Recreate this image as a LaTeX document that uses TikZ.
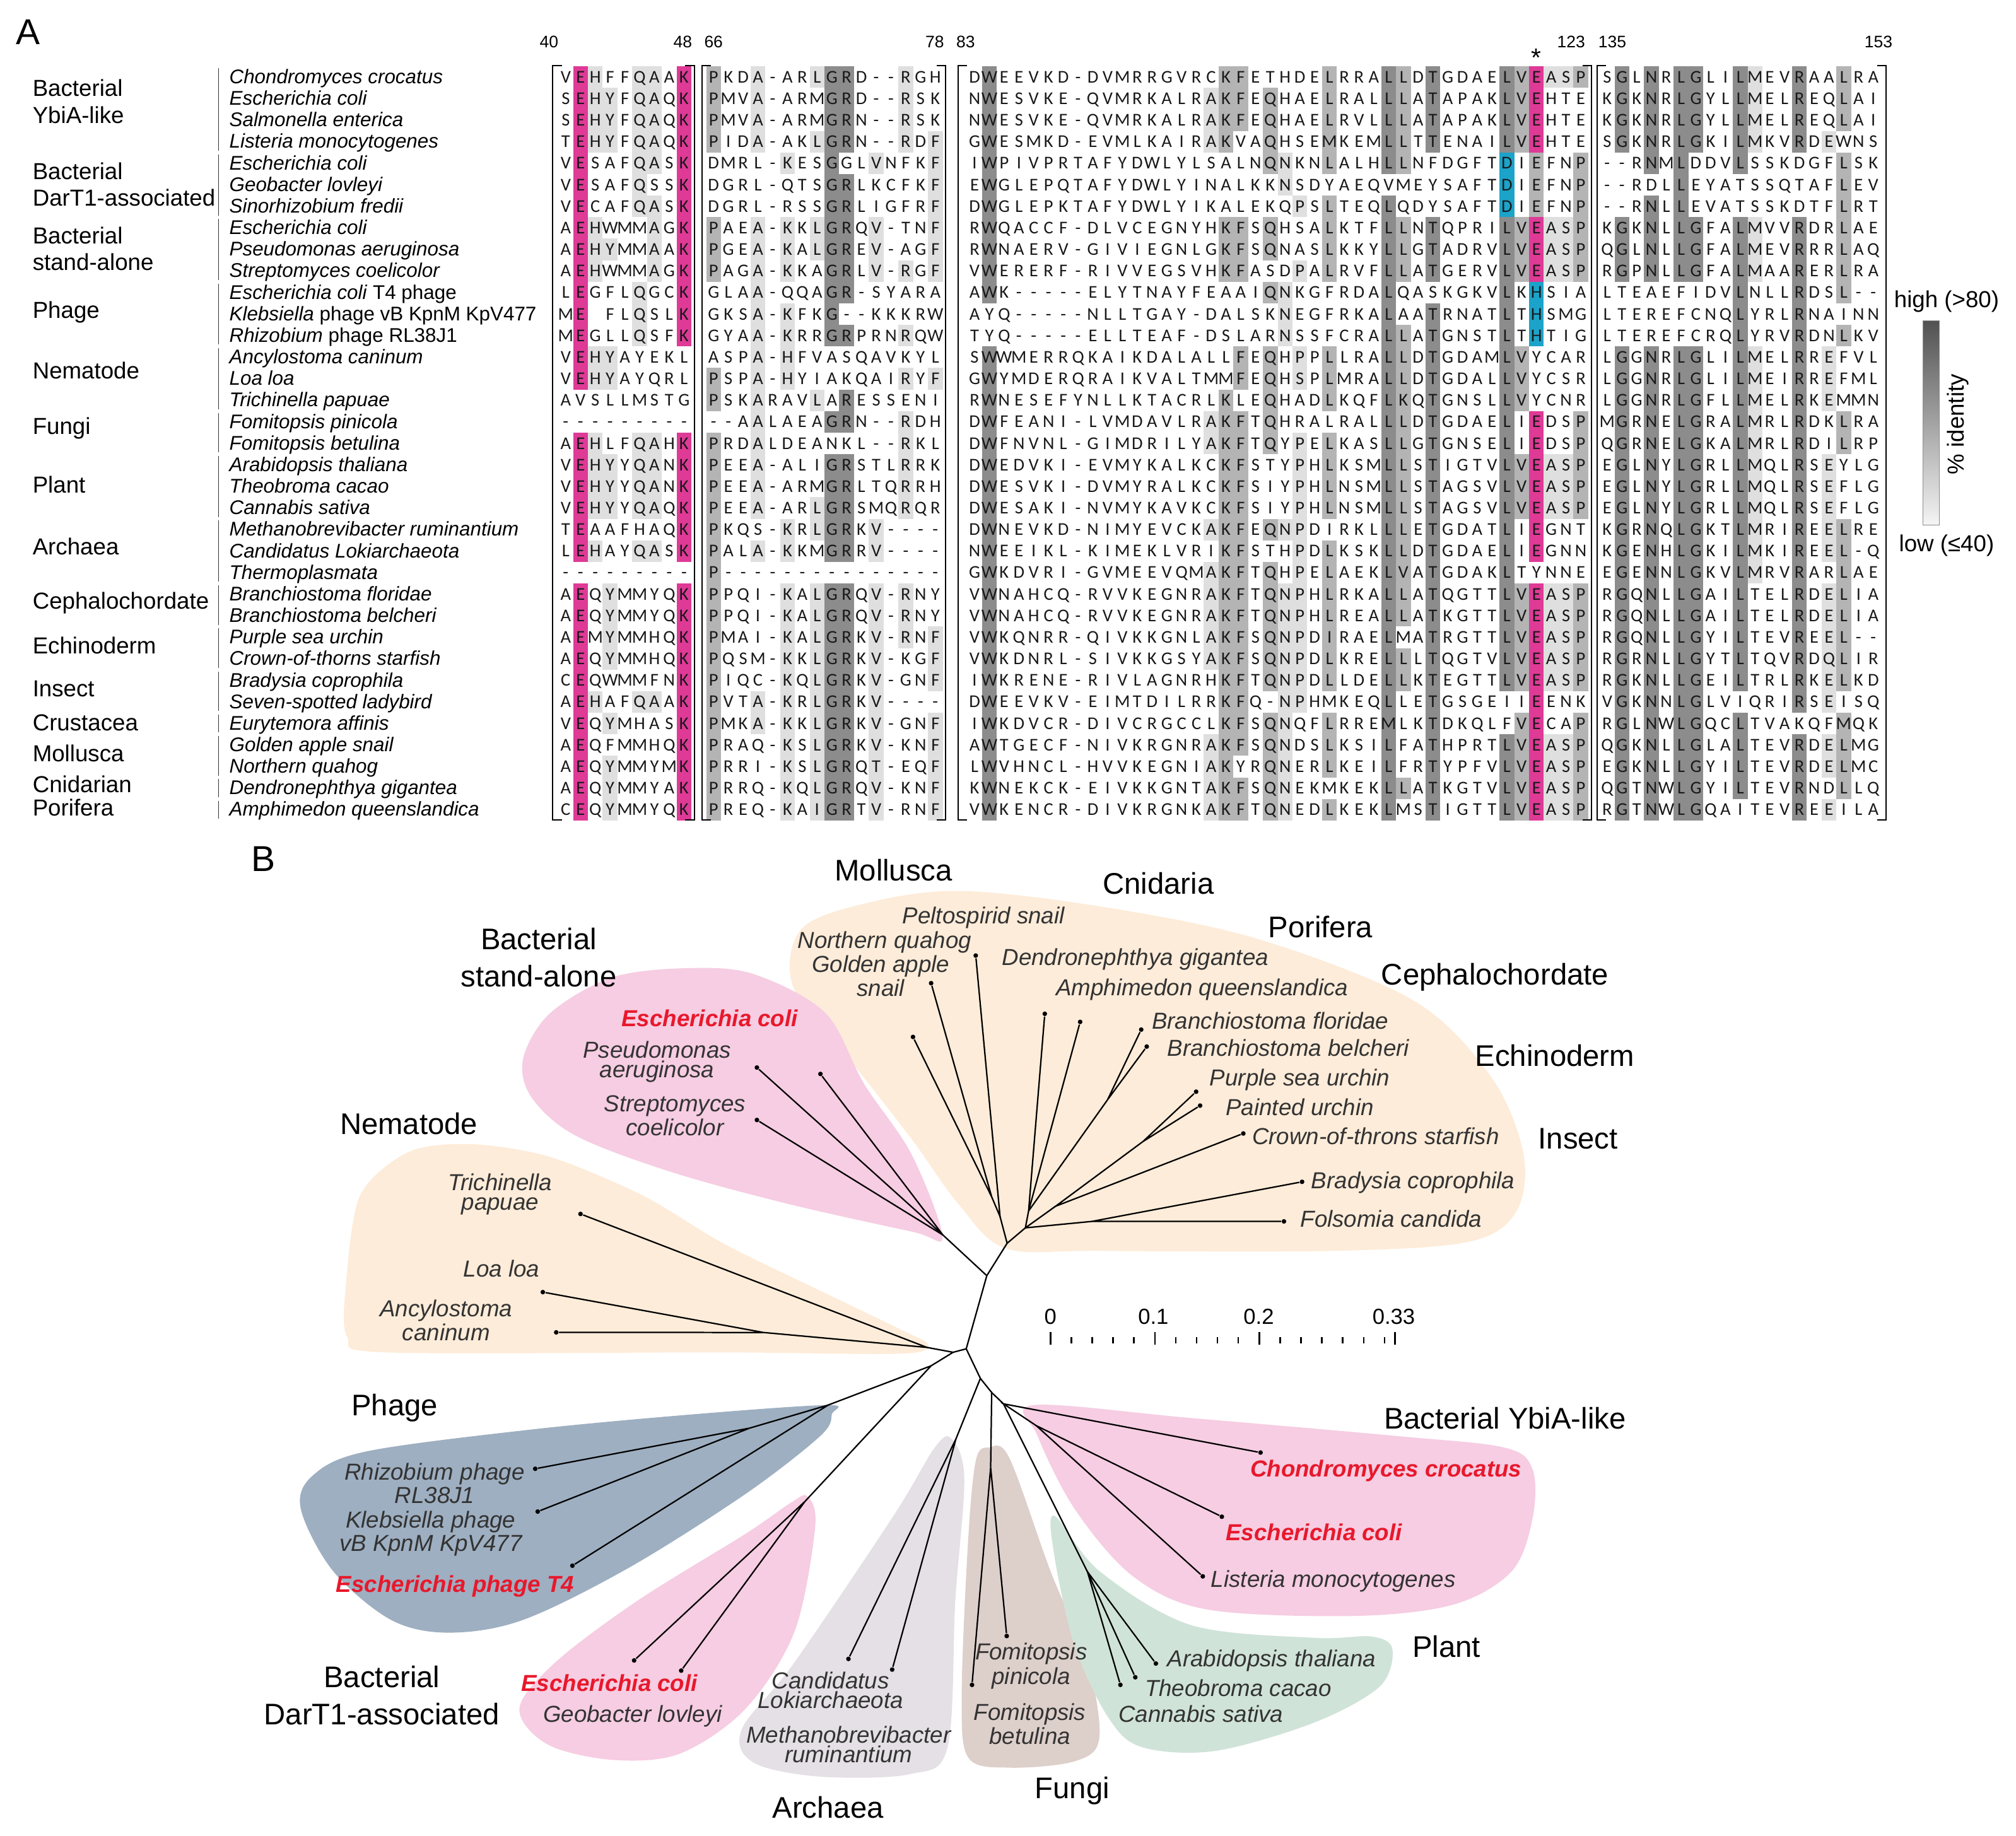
\documentclass[tikz,border=0pt]{standalone}
\usepackage{fontspec}
\setmainfont{Liberation Sans}
\newfontfamily\seqfont{Carlito}
\usetikzlibrary{positioning}

\definecolor{hlpink}{RGB}{222,58,150}
\definecolor{hlcyan}{RGB}{28,163,201}
\definecolor{hldark}{RGB}{140,140,140}
\definecolor{hlmid}{RGB}{180,180,180}
\definecolor{hllight}{RGB}{223,223,223}
\definecolor{blobpink}{RGB}{246,205,226}
\definecolor{blobpeach}{RGB}{253,236,217}
\definecolor{blobslate}{RGB}{158,175,193}
\definecolor{blobgrey}{RGB}{228,224,229}
\definecolor{blobbrown}{RGB}{221,207,202}
\definecolor{blobgreen}{RGB}{208,227,216}
\definecolor{labelred}{RGB}{232,24,44}

% one residue per alignment column
\newcount\seqcol
\newcommand\putseq[4]{\def\seqtag{#1}\def\seqx{#2}\def\seqy{#3}\seqcol=0\relax\expandafter\seqloop#4\relax}
\def\seqloop#1{\ifx#1\relax\else\seqput{#1}\advance\seqcol by 1\relax\expandafter\seqloop\fi}
\newcommand\seqput[1]{\if.#1\else\node[resid] (\seqtag-\the\seqcol) at ({\seqx+\the\seqcol*11.5},\seqy) {#1};\fi}

\tikzset{
  % alignment
  resid/.style = {
    font = \seqfont\fontsize{7}{7}\selectfont,
    text = black!90,
    inner sep = 0,
    anchor = base
  },
  spname/.style = {
    font = \fontsize{7.7}{8}\selectfont\itshape,
    inner sep = 0,
    anchor = base west
  },
  grouplabel/.style = {
    font = \fontsize{9}{10.5}\selectfont,
    align = left,
    inner sep = 0,
    anchor = west
  },
  posnum/.style = {
    font = \fontsize{6.5}{7}\selectfont,
    inner sep = 0,
    anchor = base
  },
  bracket/.style = {
    draw = black,
    line width = 0.5pt
  },
  groupbar/.style = {
    draw = black!80,
    line width = 0.45pt
  },
  panellabel/.style = {
    font = \fontsize{14}{14}\selectfont,
    inner sep = 0
  }
}
\tikzset{
  % tree
  branch/.style = {
    draw = black,
    line width = 0.55pt
  },
  leafdot/.style = {
    circle,
    fill = black,
    inner sep = 0,
    minimum size = 1.8pt
  },
  leafname/.style = {
    font = \fontsize{9}{7.6}\selectfont\itshape,
    text = black!80,
    align = center,
    inner sep = 0
  },
  % the highlighted sequences
  hitname/.style = {
    leafname,
    font = \fontsize{9}{7.6}\selectfont\bfseries\itshape,
    text = labelred
  },
  cladename/.style = {
    font = \fontsize{11.6}{14.5}\selectfont,
    align = center,
    inner sep = 0
  },
  scaletick/.style = {
    draw = black,
    line width = 0.6pt
  },
  node distance = 2pt
}

\begin{document}
\begin{tikzpicture}[x=0.5pt, y=-0.5pt]
  \useasboundingbox (0,0) rectangle (1568,1428);

  \node[panellabel] (lab-a) at (22,25) {A};
  \node[panellabel] (lab-b) at (205,668) {B};

  % shading of the alignment: block x / column / first row / last row / colour
  \foreach \bx/\c/\ra/\rb/\hc in {
    440/2/1/15/hlpink,440/2/18/23/hlpink,440/2/25/35/hlpink,
    440/9/1/13/hlpink,440/9/18/23/hlpink,440/9/25/35/hlpink,
    440/3/1/4/hllight,440/3/8/10/hllight,440/3/14/15/hllight,440/3/18/21/hllight,440/3/23/23/hllight,440/3/30/30/hllight,
    440/4/2/4/hllight,440/4/9/9/hllight,440/4/14/15/hllight,440/4/19/21/hllight,440/4/25/28/hllight,440/4/31/31/hllight,440/4/33/35/hllight,
    440/6/1/7/hllight,440/6/11/13/hllight,440/6/18/21/hllight,440/6/23/23/hllight,440/6/30/30/hllight,
    440/7/1/5/hllight,440/7/7/10/hllight,440/7/18/21/hllight,440/7/23/23/hllight,440/7/30/30/hllight,
    555/1/1/4/hlmid,555/1/8/10/hlmid,555/1/15/16/hlmid,555/1/18/35/hlmid,
    555/4/1/4/hllight,555/4/8/21/hllight,555/4/23/23/hllight,555/4/30/31/hllight,
    555/6/5/5/hllight,555/6/8/10/hllight,555/6/12/15/hllight,555/6/22/23/hllight,555/6/25/35/hllight,
    555/8/1/1/hllight,555/8/4/4/hllight,555/8/8/9/hllight,555/8/16/16/hllight,555/8/21/22/hllight,555/8/25/35/hllight,
    555/9/1/13/hldark,555/9/17/17/hldark,555/9/19/23/hldark,555/9/25/35/hldark,
    555/10/1/4/hldark,555/10/6/11/hldark,555/10/13/13/hldark,555/10/16/17/hldark,555/10/19/23/hldark,555/10/25/35/hldark,
    555/12/5/5/hllight,555/12/8/10/hllight,555/12/22/23/hllight,555/12/25/35/hllight,
    555/14/1/4/hllight,555/14/10/10/hllight,555/14/13/13/hllight,555/14/15/15/hllight,555/14/17/21/hllight,555/14/25/27/hllight,
    555/16/4/10/hllight,555/16/15/15/hllight,555/16/27/29/hllight,555/16/31/35/hllight,
    758/2/1/11/hldark,758/2/14/35/hldark,
    758/17/2/4/hllight,758/17/17/18/hllight,758/17/22/22/hllight,758/17/24/28/hllight,758/17/32/35/hllight,
    758/18/1/4/hlmid,758/18/8/10/hlmid,758/18/16/35/hlmid,
    758/19/1/3/hlmid,758/19/8/10/hlmid,758/19/14/15/hlmid,758/19/17/32/hlmid,758/19/34/35/hlmid,
    758/21/2/5/hlmid,758/21/8/9/hlmid,758/21/11/11/hlmid,758/21/14/18/hlmid,758/21/22/22/hlmid,758/21/24/29/hlmid,758/21/31/35/hlmid,
    758/22/5/6/hllight,758/22/11/13/hllight,758/22/22/22/hllight,758/22/25/35/hllight,
    758/23/7/7/hllight,758/23/10/10/hllight,758/23/14/15/hllight,758/23/18/30/hllight,
    758/25/1/5/hlmid,758/25/7/10/hlmid,758/25/14/16/hlmid,758/25/18/21/hlmid,758/25/23/29/hlmid,758/25/31/33/hlmid,758/25/35/35/hlmid,
    758/29/1/5/hldark,758/29/7/35/hldark,
    758/30/1/5/hlmid,758/30/8/10/hlmid,758/30/13/26/hlmid,758/30/28/29/hlmid,758/30/34/34/hlmid,
    758/32/1/4/hldark,758/32/8/10/hldark,758/32/12/35/hldark,
    758/37/1/4/hldark,758/37/8/29/hldark,758/37/32/35/hldark,758/37/5/7/hlcyan,
    758/38/1/4/hlmid,758/38/8/10/hlmid,758/38/14/16/hlmid,758/38/19/21/hlmid,758/38/25/29/hlmid,758/38/31/35/hlmid,
    758/39/1/4/hlpink,758/39/8/10/hlpink,758/39/17/23/hlpink,758/39/25/35/hlpink,758/39/11/13/hlcyan,758/39/5/7/hlmid,
    758/40/1/1/hllight,758/40/8/10/hllight,758/40/19/21/hllight,758/40/25/29/hllight,758/40/32/35/hllight,
    758/41/1/1/hllight,758/41/8/10/hllight,758/41/19/21/hllight,758/41/25/29/hllight,758/41/32/35/hllight,
    758/42/1/1/hlmid,758/42/5/10/hlmid,758/42/17/21/hlmid,758/42/25/29/hlmid,758/42/31/35/hlmid,
    1250/2/1/4/hldark,1250/2/8/10/hldark,1250/2/14/35/hldark,
    1250/4/1/5/hldark,1250/4/7/10/hldark,1250/4/14/35/hldark,
    1250/6/1/10/hldark,1250/6/14/35/hldark,
    1250/7/1/4/hldark,1250/7/8/10/hldark,1250/7/14/35/hldark,
    1250/10/1/5/hldark,1250/10/8/29/hldark,1250/10/31/34/hldark,
    1250/11/1/4/hllight,1250/11/8/10/hllight,1250/11/14/24/hllight,
    1250/14/1/4/hldark,1250/14/8/30/hldark,1250/14/32/35/hldark,
    1250/16/4/4/hllight,1250/16/14/16/hllight,1250/16/19/23/hllight,1250/16/25/30/hllight,1250/16/32/33/hllight,1250/16/35/35/hllight,
    1250/17/1/3/hlmid,1250/17/5/11/hlmid,1250/17/13/13/hlmid,1250/17/17/18/hlmid,1250/17/22/29/hlmid,1250/17/31/34/hlmid}
    \fill[\hc] ({\bx+(\c-1.5)*11.5},{60+(\ra-1.5)*16.76}) rectangle ({\bx+(\c-0.5)*11.5},{60+(\rb-0.5)*16.76});

  % residues, four blocks per row
  \foreach \rw/\sa/\sb/\sc/\sd in {
    1/VEHFFQAAK/PKDA-ARLGRD--RGH/DWEEVKD-DVMRRGVRCKFETHDELRRALLDTGDAELVEASP/SGLNRLGLILMEVRAALRA,
    2/SEHYFQAQK/PMVA-ARMGRD--RSK/NWESVKE-QVMRKALRAKFEQHAELRALLLATAPAKLVEHTE/KGKNRLGYLLMELREQLAI,
    3/SEHYFQAQK/PMVA-ARMGRN--RSK/NWESVKE-QVMRKALRAKFEQHAELRVLLLATAPAKLVEHTE/KGKNRLGYLLMELREQLAI,
    4/TEHYFQAQK/PIDA-AKLGRN--RDF/GWESMKD-EVMLKAIRAKVAQHSEMKEMLLTTENAILVEHTE/SGKNRLGKILMKVRDEWNS,
    5/VESAFQASK/DMRL-KESGGLVNFKF/IWPIVPRTAFYDWLYLSALNQNKNLALHLLNFDGFTDIEFNP/--RNMLDDVLSSKDGFLSK,
    6/VESAFQSSK/DGRL-QTSGRLKCFKF/EWGLEPQTAFYDWLYINALKKNSDYAEQVMEYSAFTDIEFNP/--RDLLEYATSSQTAFLEV,
    7/VECAFQASK/DGRL-RSSGRLIGFRF/DWGLEPKTAFYDWLYIKALEKQPSLTEQLQDYSAFTDIEFNP/--RNLLEVATSSKDTFLRT,
    8/AEHWMMAGK/PAEA-KKLGRQV-TNF/RWQACCF-DLVCEGNYHKFSQHSALKTFLLNTQPRILVEASP/KGKNLLGFALMVVRDRLAE,
    9/AEHYMMAAK/PGEA-KALGREV-AGF/RWNAERV-GIVIEGNLGKFSQNASLKKYLLGTADRVLVEASP/QGLNLLGFALMEVRRRLAQ,
    10/AEHWMMAGK/PAGA-KKAGRLV-RGF/VWERERF-RIVVEGSVHKFASDPALRVFLLATGERVLVEASP/RGPNLLGFALMAARERLRA,
    11/LEGFLQGCK/GLAA-QQAGR-SYARA/AWK-----ELYTNAYFEAAIQNKGFRDALQASKGKVLKHSIA/LTEAEFIDVLNLLRDSL--,
    12/ME.FLQSLK/GKSA-KFKG--KKKRW/AYQ-----NLLTGAY-DALSKNEGFRKALAATRNATLTHSMG/LTEREFCNQLYRLRNAINN,
    13/MEGLLQSFK/GYAA-KRRGRPRNRQW/TYQ-----ELLTEAF-DSLARNSSFCRALLATGNSTLTHTIG/LTEREFCRQLYRVRDNLKV,
    14/VEHYAYEKL/ASPA-HFVASQAVKYL/SWWMERRQKAIKDALALLFEQHPPLLRALLDTGDAMLVYCAR/LGGNRLGLILMELRREFVL,
    15/VEHYAYQRL/PSPA-HYIAKQAIRYF/GWYMDERQRAIKVALTMMFEQHSPLMRALLDTGDALLVYCSR/LGGNRLGLILMEIRREFML,
    16/AVSLLMSTG/PSKARAVLARESSENI/RWNESEFYNLLKTACRLKLEQHADLKQFLKQTGNSLLVYCNR/LGGNRLGFLLMELRKEMMN,
    17/---------/--AALAEAGRN--RDH/DWFEANI-LVMDAVLRAKFTQHRALRALLLDTGDAELIEDSP/MGRNELGRALMRLRDKLRA,
    18/AEHLFQAHK/PRDALDEANKL--RKL/DWFNVNL-GIMDRILYAKFTQYPELKASLLGTGNSELIEDSP/QGRNELGKALMRLRDILRP,
    19/VEHYYQANK/PEEA-ALIGRSTLRRK/DWEDVKI-EVMYKALKCKFSTYPHLKSMLLSTIGTVLVEASP/EGLNYLGRLLMQLRSEYLG,
    20/VEHYYQANK/PEEA-ARMGRLTQRRH/DWESVKI-DVMYRALKCKFSIYPHLNSMLLSTAGSVLVEASP/EGLNYLGRLLMQLRSEFLG,
    21/VEHYYQAQK/PEEA-ARLGRSMQRQR/DWESAKI-NVMYKAVKCKFSIYPHLNSMLLSTAGSVLVEASP/EGLNYLGRLLMQLRSEFLG,
    22/TEAAFHAQK/PKQS-KRLGRKV----/DWNEVKD-NIMYEVCKAKFEQNPDIRKLLLETGDATLIEGNT/KGRNQLGKTLMRIREELRE,
    23/LEHAYQASK/PALA-KKMGRRV----/NWEEIKL-KIMEKLVRIKFSTHPDLKSKLLDTGDAELIEGNN/KGENHLGKILMKIREEL-Q,
    24/---------/P---------------/GWKDVRI-GVMEEVQMAKFTQHPELAEKLVATGDAKLTYNNE/EGENNLGKVLMRVRARLAE,
    25/AEQYMMYQK/PPQI-KALGRQV-RNY/VWNAHCQ-RVVKEGNRAKFTQNPHLRKALLATQGTTLVEASP/RGQNLLGAILTELRDELIA,
    26/AEQYMMYQK/PPQI-KALGRQV-RNY/VWNAHCQ-RVVKEGNRAKFTQNPHLREALLATKGTTLVEASP/RGQNLLGAILTELRDELIA,
    27/AEMYMMHQK/PMAI-KALGRKV-RNF/VWKQNRR-QIVKKGNLAKFSQNPDIRAELMATRGTTLVEASP/RGQNLLGYILTEVREEL--,
    28/AEQYMMHQK/PQSM-KKLGRKV-KGF/VWKDNRL-SIVKKGSYAKFSQNPDLKRELLLTQGTVLVEASP/RGRNLLGYTLTQVRDQLIR,
    29/CEQWMMFNK/PIQC-KQLGRKV-GNF/IWKRENE-RIVLAGNRHKFTQNPDLLDELLKTEGTTLVEASP/RGKNLLGEILTRLRKELKD,
    30/AEHAFQAAK/PVTA-KRLGRKV----/DWEEVKV-EIMTDILRRKFQ-NPHMKEQLLETGSGEIIEENK/VGKNNLGLVIQRIRSEISQ,
    31/VEQYMHASK/PMKA-KKLGRKV-GNF/IWKDVCR-DIVCRGCCLKFSQNQFLRREMLKTDKQLFVECAP/RGLNWLGQCLTVAKQFMQK,
    32/AEQFMMHQK/PRAQ-KSLGRKV-KNF/AWTGECF-NIVKRGNRAKFSQNDSLKSILFATHPRTLVEASP/QGKNLLGLALTEVRDELMG,
    33/AEQYMMYMK/PRRI-KSLGRQT-EQF/LWVHNCL-HVVKEGNIAKYRQNERLKEILFRTYPFVLVEASP/EGKNLLGYILTEVRDELMC,
    34/AEQYMMYAK/PRRQ-KQLGRQV-KNF/KWNEKCK-EIVKKGNTAKFSQNEKMKEKLLATKGTVLVEASP/QGTNWLGYILTEVRNDLLQ,
    35/CEQYMMYQK/PREQ-KAIGRTV-RNF/VWKENCR-DIVKRGNKAKFTQNEDLKEKLMSTIGTTLVEASP/RGTNWLGQAITEVREEILA}{
    \pgfmathsetmacro\ry{60+(\rw-1)*16.76+4.4}
    \putseq{a\rw}{440}{\ry}{\sa}
    \putseq{b\rw}{555}{\ry}{\sb}
    \putseq{c\rw}{758}{\ry}{\sc}
    \putseq{d\rw}{1250}{\ry}{\sd}
  }

  % brackets round the four blocks
  \foreach \bl/\br in {430/540, 546/735.5, 745/1238, 1242/1467}{
    \draw[bracket] ({\bl+7},51) -| (\bl,638) -- ({\bl+7},638);
    \draw[bracket] ({\br-7},51) -| (\br,638) -- ({\br-7},638);
  }

  % residue numbers
  \node[posnum] (pos-40) at (427,37) {40};
  \node[posnum] (pos-48) at (531,37) {48};
  \node[posnum] (pos-66) at (555,37) {66};
  \node[posnum] (pos-78) at (727,37) {78};
  \node[posnum] (pos-83) at (751,37) {83};
  \node[posnum] (pos-123) at (1222,37) {123};
  \node[posnum] (pos-135) at (1254,37) {135};
  \node[posnum] (pos-153) at (1461,37) {153};
  \node[font=\fontsize{10}{10}\selectfont, inner sep=0] (star) at (1195,45) {*};

  % species
  \foreach \rw/\nm in {
    1/Chondromyces crocatus, 2/Escherichia coli, 3/Salmonella enterica,
    4/Listeria monocytogenes, 5/Escherichia coli, 6/Geobacter lovleyi,
    7/Sinorhizobium fredii, 8/Escherichia coli, 9/Pseudomonas aeruginosa,
    10/Streptomyces coelicolor, 11/{Escherichia coli \textup{T4 phage}},
    12/{Klebsiella \textup{phage vB KpnM KpV477}}, 13/{Rhizobium \textup{phage RL38J1}},
    14/Ancylostoma caninum, 15/Loa loa, 16/Trichinella papuae,
    17/Fomitopsis pinicola, 18/Fomitopsis betulina, 19/Arabidopsis thaliana,
    20/Theobroma cacao, 21/Cannabis sativa, 22/Methanobrevibacter ruminantium,
    23/Candidatus Lokiarchaeota, 24/Thermoplasmata, 25/Branchiostoma floridae,
    26/Branchiostoma belcheri, 27/Purple sea urchin, 28/Crown-of-thorns starfish,
    29/Bradysia coprophila, 30/Seven-spotted ladybird, 31/Eurytemora affinis,
    32/Golden apple snail, 33/Northern quahog, 34/Dendronephthya gigantea,
    35/Amphimedon queenslandica}
    \node[spname] (sp-\rw) at (178,{60+(\rw-1)*16.76+5}) {\nm};

  \foreach \ra/\rb in {1/4,5/7,8/10,11/13,14/16,17/18,19/21,22/24,25/26,27/28,29/30,31/31,32/33,34/34,35/35}
    \draw[groupbar] (170,{60+(\ra-1)*16.76-7}) -- (170,{60+(\rb-1)*16.76+7});

  \node[grouplabel] (grp-ybia) at (25,79) {Bacterial\\YbiA-like};
  \node[grouplabel] (grp-dart) at (25,143.5) {Bacterial\\DarT1-associated};
  \node[grouplabel] (grp-stand) at (25,193.5) {Bacterial\\stand-alone};
  \node[grouplabel] (grp-phage) at (25,243) {Phage};
  \node[grouplabel] (grp-nema) at (25,288) {Nematode};
  \node[grouplabel] (grp-fungi) at (25,333) {Fungi};
  \node[grouplabel] (grp-plant) at (25,377) {Plant};
  \node[grouplabel] (grp-arch) at (25,425) {Archaea};
  \node[grouplabel] (grp-ceph) at (25,469) {Cephalochordate};
  \node[grouplabel] (grp-echi) at (25,502) {Echinoderm};
  \node[grouplabel] (grp-inse) at (25,536) {Insect};
  \node[grouplabel] (grp-crus) at (25,562) {Crustacea};
  \node[grouplabel] (grp-moll) at (25,586) {Mollusca};
  \node[grouplabel] (grp-cnid) at (25,610) {Cnidarian};
  \node[grouplabel] (grp-pori) at (25,628) {Porifera};

  % identity scale
  \node[draw=black!45, line width=0.3pt, top color=black!68, bottom color=black!4,
    minimum width=6.3pt, minimum height=79.4pt, inner sep=0] (leg-bar) at (1502,329) {};
  \node[font=\fontsize{9}{9}\selectfont, inner sep=0, above=3pt of leg-bar, xshift=6pt] (leg-high) {high (>80)};
  \node[font=\fontsize{9}{9}\selectfont, inner sep=0, below=3.5pt of leg-bar, xshift=6pt] (leg-low) {low (≤40)};
  \node[font=\fontsize{9}{9}\selectfont, inner sep=0, rotate=90] (leg-ident) at (1523,330) {\% identity};

  % clade backgrounds of the tree
  \fill[blobpeach] plot[smooth cycle, tension=0.55] coordinates {
    (623,723) (672,703) (745,693) (855,705) (977,730) (1099,778) (1160,838) (1185,898)
    (1179,943) (1142,966) (1038,973) (855,973) (782,971) (745,936) (709,886) (660,823) (617,768)};
  \fill[blobpink] plot[smooth cycle, tension=0.55] coordinates {
    (733,962) (709,898) (672,843) (642,788) (587,758) (538,753) (477,760) (428,788)
    (407,823) (413,853) (447,883) (520,911) (611,936) (709,958)};
  \fill[blobpeach] plot[smooth cycle, tension=0.5] coordinates {
    (270,1040) (269,1000) (280,930) (318,896) (367,890) (428,900) (500,930) (564,968)
    (640,1005) (696,1032) (722,1046) (700,1053) (560,1052) (300,1052)};
  \fill[blobslate] plot[smooth cycle, tension=0.55] coordinates {
    (644,1093) (541,1100) (413,1112) (285,1129) (243,1148) (234,1174) (259,1222) (304,1260)
    (349,1270) (407,1260) (490,1219) (580,1162) (638,1117) (647,1100)};
  \fill[blobpink] plot[smooth cycle, tension=0.55] coordinates {
    (628,1164) (634,1188) (618,1269) (580,1329) (529,1364) (477,1369) (426,1357) (404,1329)
    (432,1293) (496,1245) (580,1193) (615,1169)};
  \fill[blobgrey] plot[smooth cycle, tension=0.55] coordinates {
    (740,1119) (750,1150) (743,1245) (737,1359) (708,1380) (638,1382) (586,1371) (577,1345)
    (618,1293) (695,1179) (727,1126)};
  \fill[blobbrown] plot[smooth cycle, tension=0.55] coordinates {
    (769,1126) (785,1134) (817,1222) (846,1293) (855,1352) (836,1370) (785,1375) (753,1367)
    (748,1317) (753,1198) (759,1136)};
  \fill[blobpink] plot[smooth cycle, tension=0.55] coordinates {
    (804,1093) (926,1103) (1086,1117) (1170,1126) (1192,1143) (1192,1181) (1176,1222) (1131,1248)
    (1054,1257) (939,1252) (881,1226) (836,1174) (807,1117)};
  \fill[blobgreen] plot[smooth cycle, tension=0.55] coordinates {
    (820,1179) (855,1222) (926,1264) (1022,1274) (1067,1273) (1083,1283) (1073,1312) (1022,1340)
    (945,1362) (888,1359) (862,1336) (836,1281) (820,1210)};

  % inner nodes of the tree
  \coordinate (root) at (751.5,1049.2);
  \coordinate (n-up) at (767.5,992.3);
  \coordinate (n-sa) at (733.3,960.6);
  \coordinate (n-top) at (783.3,967.1);
  \coordinate (n-mol1) at (771.3,931);
  \coordinate (n-mol2) at (777.8,946.3);
  \coordinate (n-top2) at (797.5,955.1);
  \coordinate (n-cp) at (800,942);
  \coordinate (n-br) at (861.4,855.5);
  \coordinate (n-ech) at (821,938.3);
  \coordinate (n-urc) at (888.9,888);
  \coordinate (n-ins) at (849.2,950.1);
  \coordinate (n-left) at (741.3,1051.9);
  \coordinate (n-nem) at (720.9,1048.1);
  \coordinate (n-loa) at (593.9,1036.5);
  \coordinate (n-low) at (724.2,1062.4);
  \coordinate (n-pha) at (644,1093);
  \coordinate (n-pha2) at (583,1110.9);
  \coordinate (n-dar) at (626,1168);
  \coordinate (n-down) at (762.5,1072.2);
  \coordinate (n-arc) at (743.5,1119.3);
  \coordinate (n-down2) at (771.3,1083.2);
  \coordinate (n-fun) at (770.5,1141.5);
  \coordinate (n-right) at (780.5,1092);
  \coordinate (n-ybi) at (806,1109);
  \coordinate (n-pla) at (845.8,1222.6);

  % tips
  \node[leafdot] (lf-pelto) at (758.9,743.3) {};
  \node[leafdot] (lf-quahog) at (724.2,764.8) {};
  \node[leafdot] (lf-apple) at (710.1,806.6) {};
  \node[leafdot] (lf-dendro) at (812.6,788.6) {};
  \node[leafdot] (lf-amphi) at (840.1,794.9) {};
  \node[leafdot] (lf-bflor) at (887.6,800.9) {};
  \node[leafdot] (lf-bbelc) at (891.9,814.1) {};
  \node[leafdot] (lf-purple) at (930.3,849.2) {};
  \node[leafdot] (lf-painted) at (933.4,860) {};
  \node[leafdot] (lf-crown) at (967,881.7) {};
  \node[leafdot] (lf-brady) at (1012.7,919.3) {};
  \node[leafdot] (lf-folso) at (998.6,950.1) {};
  \node[leafdot] (lf-sa-eco) at (638.1,835.4) {};
  \node[leafdot] (lf-pseudo) at (588.7,830.4) {};
  \node[leafdot] (lf-strep) at (588.7,871.2) {};
  \node[leafdot] (lf-trich) at (451.5,944.3) {};
  \node[leafdot] (lf-loa) at (422.2,1005.1) {};
  \node[leafdot] (lf-ancyl) at (432.6,1036.4) {};
  \node[leafdot] (lf-rhizo) at (416.3,1142.5) {};
  \node[leafdot] (lf-klebs) at (418.2,1175.8) {};
  \node[leafdot] (lf-t4) at (445.2,1217.9) {};
  \node[leafdot] (lf-da-eco) at (493.2,1291.6) {};
  \node[leafdot] (lf-geob) at (529.8,1299.5) {};
  \node[leafdot] (lf-cand) at (659.9,1290.4) {};
  \node[leafdot] (lf-metha) at (693.9,1298.7) {};
  \node[leafdot] (lf-pini) at (783,1272.6) {};
  \node[leafdot] (lf-betu) at (756,1310.6) {};
  \node[leafdot] (lf-chond) at (980.4,1129.9) {};
  \node[leafdot] (lf-yb-eco) at (950.3,1179.8) {};
  \node[leafdot] (lf-liste) at (935.5,1226.2) {};
  \node[leafdot] (lf-arab) at (899,1294) {};
  \node[leafdot] (lf-theo) at (883,1304.7) {};
  \node[leafdot] (lf-canna) at (871.4,1310.6) {};

  % branches
  \draw[branch] (n-up) -- (root) -- (n-down);
  \draw[branch] (root) -- (n-left);
  \draw[branch] (n-sa) -- (n-up) -- (n-top);
  \draw[branch] (lf-sa-eco) -- (n-sa) -- (lf-pseudo);
  \draw[branch] (n-sa) -- (lf-strep);
  \draw[branch] (n-mol2) -- (n-top) -- (n-top2);
  \draw[branch] (lf-pelto) -- (n-mol2) -- (n-mol1);
  \draw[branch] (lf-apple) -- (n-mol1) -- (lf-quahog);
  \draw[branch] (n-cp) -- (n-top2) -- (n-ech);
  \draw[branch] (n-top2) -- (n-ins);
  \draw[branch] (lf-dendro) -- (n-cp) -- (lf-amphi);
  \draw[branch] (n-cp) -- (n-br);
  \draw[branch] (lf-bflor) -- (n-br) -- (lf-bbelc);
  \draw[branch] (n-urc) -- (n-ech) -- (lf-crown);
  \draw[branch] (lf-purple) -- (n-urc) -- (lf-painted);
  \draw[branch] (lf-brady) -- (n-ins) -- (lf-folso);
  \draw[branch] (n-nem) -- (n-left) -- (n-low);
  \draw[branch] (lf-trich) -- (n-nem) -- (n-loa);
  \draw[branch] (lf-loa) -- (n-loa) -- (lf-ancyl);
  \draw[branch] (n-pha) -- (n-low) -- (n-dar);
  \draw[branch] (n-pha2) -- (n-pha) -- (lf-t4);
  \draw[branch] (lf-rhizo) -- (n-pha2) -- (lf-klebs);
  \draw[branch] (lf-da-eco) -- (n-dar) -- (lf-geob);
  \draw[branch] (n-arc) -- (n-down) -- (n-down2);
  \draw[branch] (lf-cand) -- (n-arc) -- (lf-metha);
  \draw[branch] (n-fun) -- (n-down2) -- (n-right);
  \draw[branch] (lf-pini) -- (n-fun) -- (lf-betu);
  \draw[branch] (lf-chond) -- (n-right) -- (n-ybi);
  \draw[branch] (n-right) -- (n-pla);
  \draw[branch] (lf-yb-eco) -- (n-ybi) -- (lf-liste);
  \draw[branch] (lf-arab) -- (n-pla) -- (lf-theo);
  \draw[branch] (n-pla) -- (lf-canna);

  % tip labels
  \node[leafname] (nm-pelto) at (765,714) {Peltospirid snail};
  \node[leafname] (nm-quahog) at (688,733) {Northern quahog};
  \node[leafname] (nm-apple) at (685,759) {Golden apple\\snail};
  \node[leafname] (nm-dendro) at (883,746) {Dendronephthya gigantea};
  \node[leafname] (nm-amphi) at (935,770) {Amphimedon queenslandica};
  \node[leafname] (nm-bflor) at (988,794) {Branchiostoma floridae};
  \node[leafname] (nm-bbelc) at (1002,815) {Branchiostoma belcheri};
  \node[leafname] (nm-purple) at (1011,840) {Purple sea urchin};
  \node[leafname] (nm-painted) at (1011,861) {Painted urchin};
  \node[leafname] (nm-crown) at (1070,884) {Crown-of-throns starfish};
  \node[leafname] (nm-brady) at (1099,920) {Bradysia coprophila};
  \node[leafname] (nm-folso) at (1082,948) {Folsomia candida};
  \node[hitname] (nm-sa-eco) at (552,792) {Escherichia coli};
  \node[leafname] (nm-pseudo) at (511,826) {Pseudomonas\\aeruginosa};
  \node[leafname] (nm-strep) at (525,868) {Streptomyces\\coelicolor};
  \node[leafname] (nm-trich) at (389,929) {Trichinella\\papuae};
  \node[leafname] (nm-loa) at (390,987) {Loa loa};
  \node[leafname] (nm-ancyl) at (347,1027) {Ancylostoma\\caninum};
  \node[leafname] (nm-rhizo) at (338,1154) {Rhizobium phage\\RL38J1};
  \node[leafname] (nm-klebs) at (335,1193) {Klebsiella phage\\vB KpnM KpV477};
  \node[hitname] (nm-t4) at (354,1234) {Escherichia phage T4};
  \node[hitname] (nm-da-eco) at (474,1309) {Escherichia coli};
  \node[leafname] (nm-geob) at (492,1335) {Geobacter lovleyi};
  \node[leafname] (nm-cand) at (646,1315) {Candidatus\\Lokiarchaeota};
  \node[leafname] (nm-metha) at (660,1357) {Methanobrevibacter\\ruminantium};
  \node[leafname] (nm-pini) at (802,1296) {Fomitopsis\\pinicola};
  \node[leafname] (nm-betu) at (801,1341) {Fomitopsis\\betulina};
  \node[hitname] (nm-chond) at (1078,1144) {Chondromyces crocatus};
  \node[hitname] (nm-yb-eco) at (1022,1192) {Escherichia coli};
  \node[leafname] (nm-liste) at (1037,1230) {Listeria monocytogenes};
  \node[leafname] (nm-arab) at (989,1292) {Arabidopsis thaliana};
  \node[leafname] (nm-theo) at (963,1313) {Theobroma cacao};
  \node[leafname] (nm-canna) at (934,1333) {Cannabis sativa};

  % clade names
  \node[cladename] (cl-moll) at (695,677) {Mollusca};
  \node[cladename] (cl-cnid) at (901,687) {Cnidaria};
  \node[cladename] (cl-pori) at (1027,721) {Porifera};
  \node[cladename, anchor=west] (cl-ceph) at (1074,760) {Cephalochordate};
  \node[cladename, anchor=west] (cl-echi) at (1147,821) {Echinoderm};
  \node[cladename, anchor=west] (cl-inse) at (1196,886) {Insect};
  \node[cladename] (cl-stand) at (419,745) {Bacterial\\stand-alone};
  \node[cladename] (cl-nema) at (318,874) {Nematode};
  \node[cladename] (cl-phage) at (307,1095) {Phage};
  \node[cladename, anchor=west] (cl-ybia) at (1076,1103) {Bacterial YbiA-like};
  \node[cladename] (cl-plant) at (1125,1281) {Plant};
  \node[cladename] (cl-dart) at (297,1319) {Bacterial\\DarT1-associated};
  \node[cladename] (cl-arch) at (644,1406) {Archaea};
  \node[cladename] (cl-fungi) at (834,1393) {Fungi};

  % scale bar
  \foreach \i in {1,2,3,4,6,7,8,9,11,12,13,14,15,16}
    \draw[scaletick] ({817+\i*16.24},1040) -- ({817+\i*16.24},1045);
  \foreach \sx in {817,898.2,979.4,1085}
    \draw[scaletick] (\sx,1036) -- (\sx,1046);
  \node[font=\fontsize{8.5}{8.5}\selectfont] (sc-0) at (817,1024) {0};
  \node[font=\fontsize{8.5}{8.5}\selectfont] (sc-1) at (897,1024) {0.1};
  \node[font=\fontsize{8.5}{8.5}\selectfont] (sc-2) at (979,1024) {0.2};
  \node[font=\fontsize{8.5}{8.5}\selectfont] (sc-33) at (1084,1024) {0.33};
\end{tikzpicture}
\end{document}
